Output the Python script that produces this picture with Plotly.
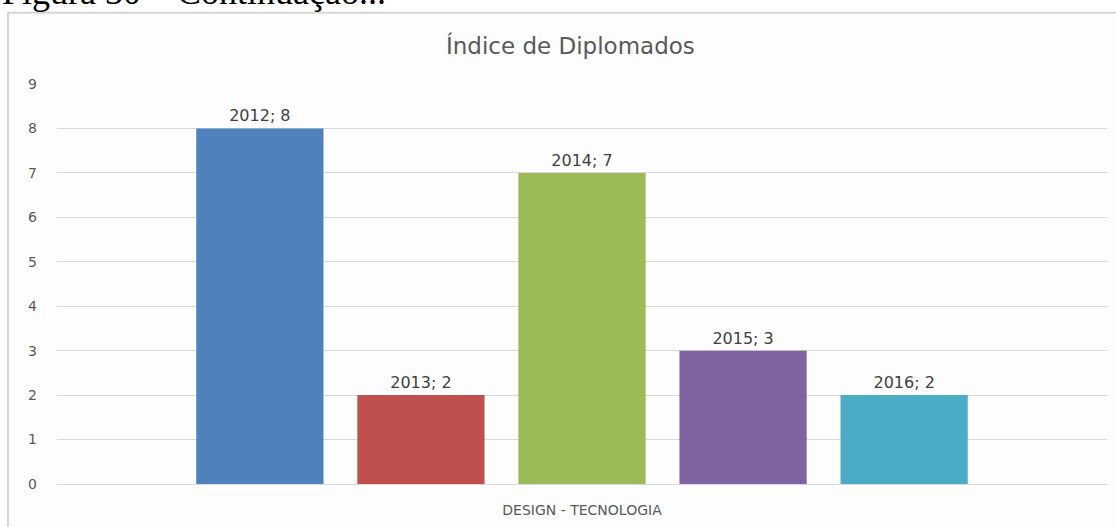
import plotly.graph_objects as go

category = "DESIGN - TECNOLOGIA"
years = ["2012", "2013", "2014", "2015", "2016"]
values = [8, 2, 7, 3, 2]
colors = ["#4f81bd", "#c0504d", "#9bbb59", "#8064a2", "#4bacc6"]

fig = go.Figure()
for year, val, col in zip(years, values, colors):
    fig.add_trace(go.Bar(
        x=[category], y=[val], name=year,
        marker=dict(color=col, line_width=0),
        text=[f"{year}; {val}"], textposition="outside", cliponaxis=False,
        textfont=dict(family="DejaVu Sans", size=16, color="#404040"),
    ))

# chart frame (only top/left edge visible in the cropped picture)
fig.add_shape(type="rect", xref="paper", yref="paper",
              x0=-0.0467, x1=1.05, y0=-0.3, y1=1.178,
              line=dict(color="#d6d6d6", width=2), fillcolor="#fdfdfd", layer="below")

fig.add_annotation(text="Índice de Diplomados", xref="paper", yref="paper",
                   x=0.4886, y=1.0965, xanchor="center", yanchor="middle", showarrow=False,
                   font=dict(family="DejaVu Sans", size=23, color="#595959"))

# caption of the page, cut off at the top
fig.add_annotation(text="Figura 30 – Continuação...", xref="paper", yref="paper",
                   x=-0.0543, y=1.174, xanchor="left", yanchor="bottom", showarrow=False,
                   font=dict(family="Liberation Serif", size=36, color="#000000"))

fig.update_layout(
    width=1116, height=527,
    margin=dict(l=57, r=9, t=84, b=31),
    paper_bgcolor="white", plot_bgcolor="rgba(0,0,0,0)",
    barmode="group", bargap=0.233, bargroupgap=0.21,
    showlegend=False,
    font=dict(family="DejaVu Sans", color="#595959"),
)
fig.update_yaxes(range=[0, 9], dtick=1, showgrid=True, gridcolor="#d9d9d9", gridwidth=1,
                 zeroline=False, showline=False, ticklabelstandoff=19,
                 tickfont=dict(size=14, color="#595959"))
fig.update_xaxes(showline=True, linecolor="#d9d9d9", ticklabelstandoff=13,
                 tickfont=dict(size=14, color="#595959"))

fig.write_html("out.html", config={"displayModeBar": False},
               post_script="document.body.style.margin='0';")
